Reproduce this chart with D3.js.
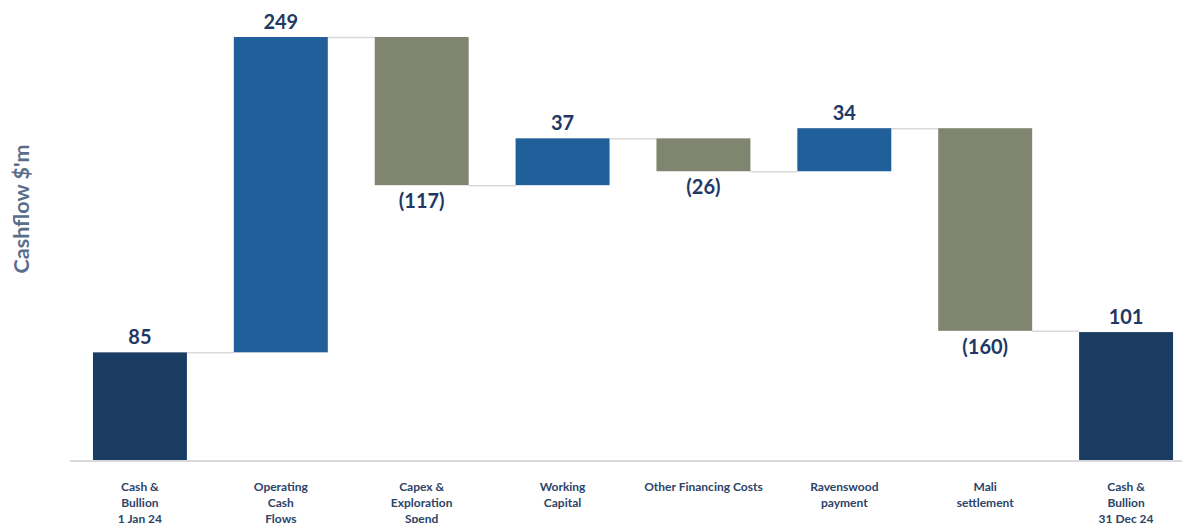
<!DOCTYPE html>
<html>
<head>
<meta charset="utf-8">
<script src="https://cdn.jsdelivr.net/npm/d3@7"></script>
<style>
  body { margin: 0; background: #fff; }
  svg { display: block; font-family: Lato, "Open Sans", sans-serif; }
</style>
</head>
<body>
<div class="chart"></div>
<script>
// Waterfall data ($'m)
var categories = [
    ["Cash &", "Bullion", "1 Jan 24"],
    ["Operating", "Cash", "Flows"],
    ["Capex &", "Exploration", "Spend"],
    ["Working", "Capital"],
    ["Other Financing Costs"],
    ["Ravenswood", "payment"],
    ["Mali", "settlement"],
    ["Cash &", "Bullion", "31 Dec 24"]
];
var values = [85, 249, -117, 37, -26, 34, -160, 101];
var kinds = ["total", "step", "step", "step", "step", "step", "step", "total"];
var valueLabels = ["85", "249", "(117)", "37", "(26)", "34", "(160)", "101"];

var colors = { total: "#1a3c62", up: "#215f9a", down: "#80856f" };

var width = 1182, height = 523;
var baseY = 460;

// build running totals
var bars = [];
var running = 0;
values.forEach(function(v, i) {
    var start, end;
    if (kinds[i] === "total") {
        start = 0; end = v; running = v;
    } else {
        start = running; end = running + v; running = end;
    }
    bars.push({
        i: i, v: v, start: start, end: end,
        lo: Math.min(start, end), hi: Math.max(start, end),
        type: kinds[i] === "total" ? "total" : (v >= 0 ? "up" : "down")
    });
});

var svg = d3.select(".chart").append("svg")
    .attr("width", width)
    .attr("height", height);

var x = d3.scaleBand()
    .domain(d3.range(categories.length))
    .range([69.5, 1196.5])
    .paddingInner(0.333)
    .paddingOuter(0.1665);

var y = d3.scaleLinear()
    .domain([0, 334])
    .range([baseY, 37]);

// connectors
svg.append("g").selectAll("line")
    .data(bars.slice(0, -1))
    .enter().append("line")
    .attr("x1", function(d) { return x(d.i) + x.bandwidth(); })
    .attr("x2", function(d) { return x(d.i + 1); })
    .attr("y1", function(d) { return y(d.end) + 0.5; })
    .attr("y2", function(d) { return y(d.end) + 0.5; })
    .attr("stroke", "#d9d9d9")
    .attr("stroke-width", 1.5);

// bars
svg.append("g").selectAll("rect")
    .data(bars)
    .enter().append("rect")
    .attr("x", function(d) { return x(d.i); })
    .attr("width", x.bandwidth())
    .attr("y", function(d) { return y(d.hi); })
    .attr("height", function(d) { return y(d.lo) - y(d.hi); })
    .attr("fill", function(d) { return colors[d.type]; });

// baseline axis
svg.append("line")
    .attr("x1", 70).attr("x2", width)
    .attr("y1", baseY + 1).attr("y2", baseY + 1)
    .attr("stroke", "#d9d9d9")
    .attr("stroke-width", 2);

// value labels
svg.append("g").selectAll("text")
    .data(bars)
    .enter().append("text")
    .attr("x", function(d) { return x(d.i) + x.bandwidth() / 2; })
    .attr("y", function(d) {
        return d.type === "down" ? y(d.lo) + 23 : y(d.hi) - 8;
    })
    .attr("text-anchor", "middle")
    .attr("font-size", 20)
    .attr("font-weight", "bold")
    .attr("fill", "#1f3864")
    .text(function(d, i) { return valueLabels[i]; });

// category labels
var cat = svg.append("g").selectAll("text")
    .data(categories)
    .enter().append("text")
    .attr("x", function(d, i) { return x(i) + x.bandwidth() / 2; })
    .attr("y", 491)
    .attr("text-anchor", "middle")
    .attr("font-size", 12)
    .attr("font-weight", "bold")
    .attr("fill", "#2c4468");

cat.selectAll("tspan")
    .data(function(d) { return d; })
    .enter().append("tspan")
    .attr("x", function() { return d3.select(this.parentNode).attr("x"); })
    .attr("dy", function(d, j) { return j === 0 ? 0 : 16; })
    .text(function(d) { return d; });

// y axis title
svg.append("text")
    .attr("transform", "translate(29,209) rotate(-90)")
    .attr("text-anchor", "middle")
    .attr("font-size", 21.5)
    .attr("font-weight", "bold")
    .attr("fill", "#5a6e8c")
    .text("Cashflow $'m");
</script>
</body>
</html>
